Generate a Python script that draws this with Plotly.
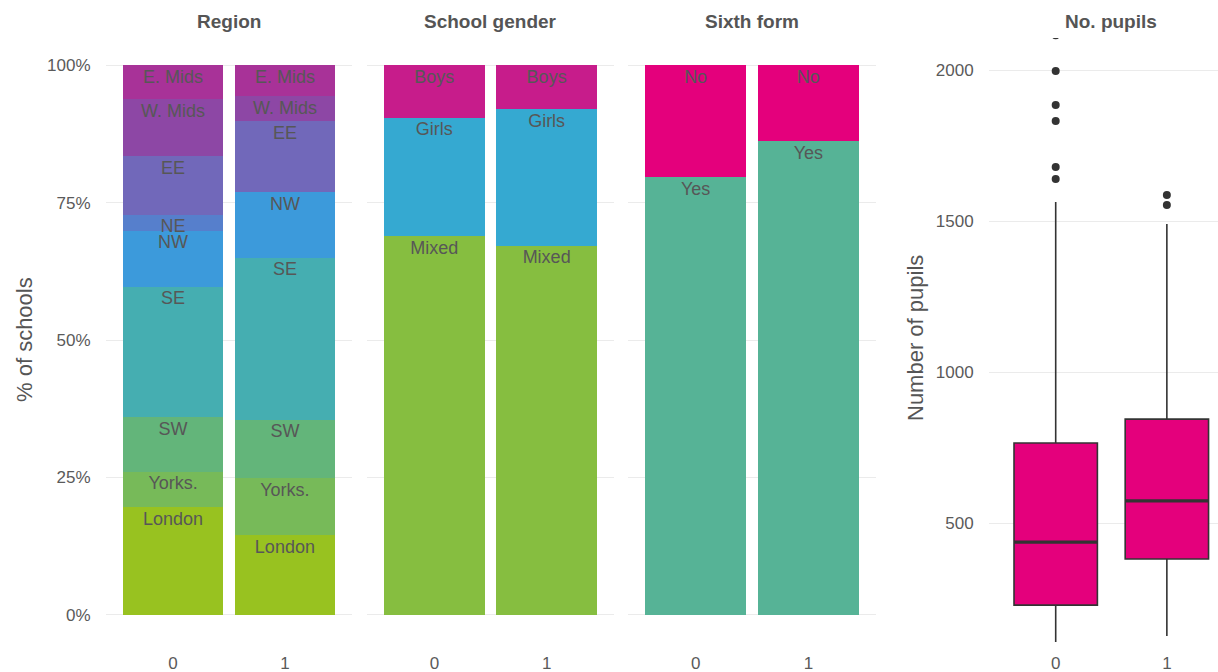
import plotly.graph_objects as go

# ---------------- data ----------------
groups = [0, 1]
group_labels = ["0", "1"]

region_names = ["London", "Yorks.", "SW", "SE", "NW", "NE", "EE", "W. Mids", "E. Mids"]
region_g0 = [19.5, 6.5, 9.9, 23.8, 10.2, 2.9, 10.7, 10.4, 6.1]
region_g1 = [14.4, 10.4, 10.7, 29.5, 11.9, 0.0, 12.9, 4.6, 5.6]
region_colors = ["#98C220", "#77BA59", "#63B57A", "#45AEB1", "#3C9ADB",
                 "#567FCC", "#7168BA", "#8D47A5", "#A83298"]

gender_names = ["Mixed", "Girls", "Boys"]
gender_g0 = [68.9, 21.6, 9.5]
gender_g1 = [67.2, 24.8, 8.0]
gender_colors = ["#86BE40", "#35A9D1", "#C71C8B"]

sixth_names = ["Yes", "No"]
sixth_g0 = [79.6, 20.4]
sixth_g1 = [86.2, 13.8]
sixth_colors = ["#56B396", "#E4007C"]

box_lowerfence = [106, 126]
box_q1 = [228, 381]
box_median = [437, 573]
box_q3 = [765, 844]
box_upperfence = [1563, 1490]
outliers_g0 = [1639, 1679, 1831, 1884, 1997, 2115]
outliers_g1 = [1553, 1586]

pct_ticks = [0, 25, 50, 75, 100]
pct_tick_labels = ["0%", "25%", "50%", "75%", "100%"]
pupil_ticks = [500, 1000, 1500, 2000]
pupil_tick_labels = ["500", "1000", "1500", "2000"]

facet_titles = ["Region", "School gender", "Sixth form", "No. pupils"]

# ---------------- style ----------------
FONT = "Liberation Sans, Arial, sans-serif"
TXT = "#555555"
GRID = "#EBEBEB"
LABEL_COL = "#575757"

fig = go.Figure()


def add_stack(names, v0, v1, colors, xa, ya):
    cum = [0.0, 0.0]
    lx, ly, lt = [], [], []
    for name, a, b, c in zip(names, v0, v1, colors):
        fig.add_trace(go.Bar(x=groups, y=[a, b], width=0.9, name=name,
                             marker=dict(color=c, line=dict(width=0)),
                             xaxis=xa, yaxis=ya, showlegend=False,
                             hoverinfo="skip"))
        for i, v in enumerate([a, b]):
            cum[i] += v
            if v > 0:
                lx.append(groups[i])
                ly.append(cum[i])
                lt.append(name)
    fig.add_trace(go.Scatter(x=lx, y=ly, text=lt, mode="markers+text",
                             textposition="bottom center",
                             marker=dict(size=5, color="rgba(0,0,0,0)"),
                             textfont=dict(family=FONT, size=18, color=LABEL_COL),
                             xaxis=xa, yaxis=ya, showlegend=False,
                             hoverinfo="skip", cliponaxis=False))


add_stack(region_names, region_g0, region_g1, region_colors, "x", "y")
add_stack(gender_names, gender_g0, gender_g1, gender_colors, "x2", "y2")
add_stack(sixth_names, sixth_g0, sixth_g1, sixth_colors, "x3", "y3")

# box plot
fig.add_trace(go.Box(x=groups, q1=box_q1, median=box_median, q3=box_q3,
                     lowerfence=box_lowerfence, upperfence=box_upperfence,
                     fillcolor="#E4007C", line=dict(color="#333333", width=1.6),
                     whiskerwidth=0, width=0.75, boxpoints=False,
                     xaxis="x4", yaxis="y4", showlegend=False, hoverinfo="skip"))
# thicker median lines
for g, m in zip(groups, box_median):
    fig.add_trace(go.Scatter(x=[g - 0.375, g + 0.375], y=[m, m], mode="lines",
                             line=dict(color="#333333", width=3.2),
                             xaxis="x4", yaxis="y4", showlegend=False,
                             hoverinfo="skip"))
out_x = [groups[0]] * len(outliers_g0) + [groups[1]] * len(outliers_g1)
out_y = outliers_g0 + outliers_g1
fig.add_trace(go.Scatter(x=out_x, y=out_y, mode="markers",
                         marker=dict(color="#333333", size=8),
                         xaxis="x4", yaxis="y4", showlegend=False,
                         hoverinfo="skip"))

# ---------------- layout ----------------
W, H = 1218, 672
ydom = [30 / H, 634 / H]
xdoms = [[106 / W, 352 / W], [367 / W, 614 / W], [628 / W, 876 / W], [989 / W, 1.0]]

tickfont = dict(family=FONT, size=17, color="#5A5A5A")

def xax(dom, rng):
    return dict(domain=dom, range=rng, tickmode="array", tickvals=groups,
                ticktext=group_labels, automargin=False,
                showgrid=False, zeroline=False, showline=False,
                ticks="outside", ticklen=6, tickcolor="rgba(0,0,0,0)",
                tickfont=tickfont, fixedrange=True)

layout = dict(
    width=W, height=H, autosize=False,
    margin=dict(l=0, r=0, t=0, b=0, pad=0),
    paper_bgcolor="white", plot_bgcolor="white",
    barmode="stack", showlegend=False,
    font=dict(family=FONT, color=TXT),
    xaxis=xax(xdoms[0], [-0.6, 1.6]),
    xaxis2=xax(xdoms[1], [-0.6, 1.6]),
    xaxis3=xax(xdoms[2], [-0.6, 1.6]),
    xaxis4=xax(xdoms[3], [-0.6, 1.46]),
)

def yax(show_labels, anchor, rng, tv, tt):
    return dict(domain=ydom, range=rng, tickmode="array", tickvals=tv, ticktext=tt,
                showgrid=True, gridcolor=GRID, gridwidth=1.3, automargin=False,
                zeroline=False, showline=False, anchor=anchor,
                ticks="outside", ticklen=11, tickcolor="rgba(0,0,0,0)",
                tickfont=tickfont, showticklabels=show_labels, fixedrange=True)

layout["yaxis"] = yax(True, "x", [-5, 105], pct_ticks, pct_tick_labels)
layout["yaxis2"] = yax(False, "x2", [-5, 105], pct_ticks, pct_tick_labels)
layout["yaxis3"] = yax(False, "x3", [-5, 105], pct_ticks, pct_tick_labels)
layout["yaxis4"] = yax(True, "x4", [106, 2106], pupil_ticks, pupil_tick_labels)

annotations = []
for i, t in enumerate(facet_titles):
    xr = "x" if i == 0 else "x%d" % (i + 1)
    annotations.append(dict(text="<b>%s</b>" % t, x=0.5, xref=xr,
                            y=1 - 21 / H, yref="paper", yanchor="middle",
                            xanchor="center", showarrow=False,
                            font=dict(family=FONT, size=19, color=TXT)))
annotations.append(dict(text="% of schools", x=24 / W, y=1 - 340 / H,
                        xref="paper", yref="paper", textangle=-90,
                        xanchor="center", yanchor="middle", showarrow=False,
                        font=dict(family=FONT, size=22, color=TXT)))
annotations.append(dict(text="Number of pupils", x=915 / W, y=1 - 338 / H,
                        xref="paper", yref="paper", textangle=-90,
                        xanchor="center", yanchor="middle", showarrow=False,
                        font=dict(family=FONT, size=22, color=TXT)))
layout["annotations"] = annotations

fig.update_layout(**layout)
fig.write_html("out.html", include_plotlyjs=True, full_html=True,
               config={"displayModeBar": False})
